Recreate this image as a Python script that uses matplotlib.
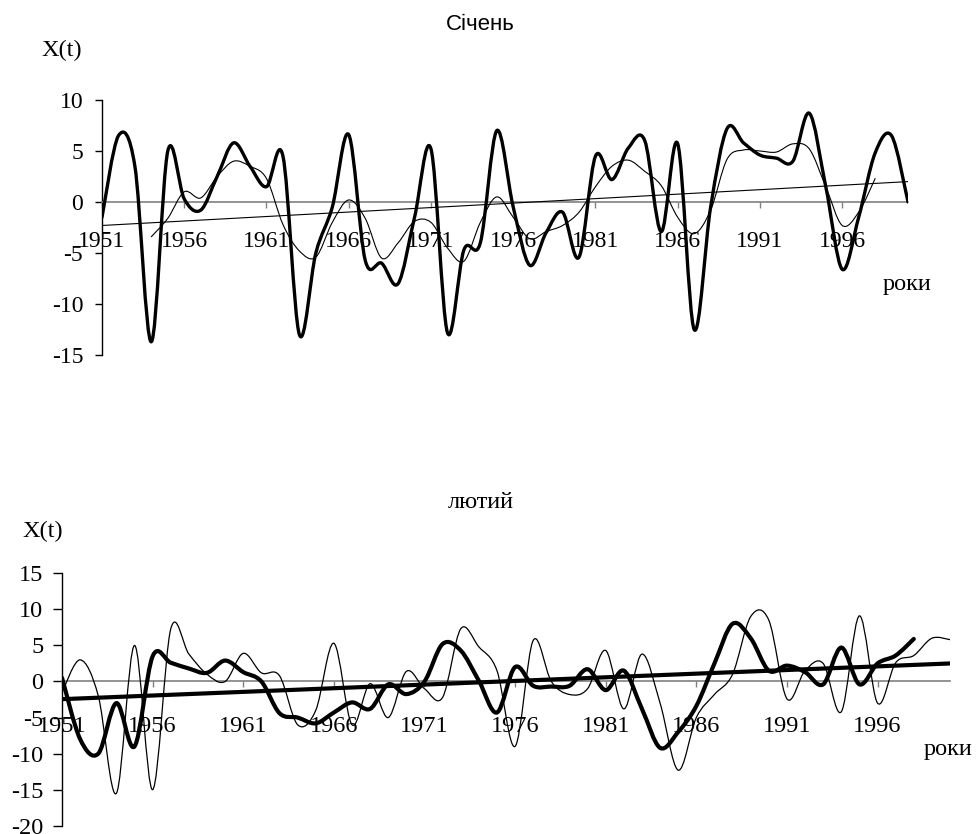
import numpy as np
import matplotlib.pyplot as plt
from matplotlib.path import Path
from matplotlib.patches import PathPatch

plt.rcParams['font.family'] = ['Liberation Serif', 'DejaVu Serif']
plt.rcParams['axes.unicode_minus'] = False

years = np.arange(1951, 2001)
tick_years = np.arange(1951, 2000, 5)

# Січень: ряд (товста лінія), згладжений ряд (тонка), тренд
jan_values = [-1.5, 6.5, 3.5, -13.7, 5.0, 0.3, -0.8, 2.5, 5.8, 3.5,
              1.5, 4.5, -13.0, -5.0, -0.5, 6.6, -5.7, -6.0, -8.0, -1.5,
              5.2, -12.8, -4.7, -4.0, 7.0, -0.5, -6.2, -3.0, -1.0, -5.4,
              4.5, 2.2, 5.3, 6.0, -2.9, 5.7, -12.5, -0.5, 7.2, 5.8,
              4.6, 4.3, 4.0, 8.7, 1.5, -6.6, -1.5, 4.8, 6.5, 0.0]
jan_smooth_years = np.arange(1954, 1999)
jan_smooth = [-3.4, -1.6, 1.0, 0.4, 2.5, 4.0, 3.5, 2.3, -2.2, -4.8,
              -5.4, -2.0, 0.2, -1.6, -5.5, -4.0, -1.9, -2.0, -4.5, -5.8,
              -2.0, 0.5, -1.5, -3.6, -2.9, -2.3, -1.0, 1.5, 3.5, 4.1,
              3.0, 1.6, -1.5, -3.1, -0.8, 4.2, 5.1, 5.0, 4.9, 5.7,
              5.2, 1.5, -2.3, -1.0, 2.3]
jan_trend_years = [1951, 2000]
jan_trend = [-2.3, 2.0]

# лютий: ряд (тонка лінія), згладжений ряд (товста), тренд
feb_values = [-1.5, 3.0, -2.0, -15.5, 5.0, -15.0, 7.3, 3.8, 1.0, 0.0,
              3.9, 1.2, 0.8, -6.0, -4.0, 5.3, -6.0, -0.3, -5.0, 1.4,
              -1.0, -2.2, 7.3, 4.8, 1.5, -9.0, 5.7, 0.0, -1.8, -1.0,
              4.3, -3.8, 3.8, -3.0, -12.3, -5.0, -1.8, 1.0, 9.0, 8.5,
              -2.4, 1.5, 2.5, -4.2, 9.1, -3.0, 2.6, 3.6, 6.0, 5.8]
feb_smooth_years = np.arange(1951, 1999)
feb_smooth = [0.5, -8.0, -10.0, -3.0, -9.0, 3.5, 2.6, 1.8, 1.2, 2.9,
              1.3, 0.0, -4.4, -5.0, -5.8, -4.3, -2.9, -3.8, -0.4, -1.75,
              0.0, 5.2, 4.3, 0.1, -4.3, 2.0, -0.6, -0.7, -0.6, 1.7,
              -1.2, 1.5, -3.8, -9.2, -7.0, -3.4, 2.5, 8.0, 6.0, 1.5,
              2.2, 1.3, -0.4, 4.7, -0.4, 2.5, 3.6, 5.9]
feb_trend_years = [1951, 2000]
feb_trend = [-2.45, 2.5]


def smooth_line(ax, x, y, lw):
    # згладжена лінія як в Excel (кубічні криві Безьє)
    x = np.asarray(x, float)
    y = np.asarray(y, float)
    n = len(x)
    verts = [(x[0], y[0])]
    codes = [Path.MOVETO]
    for i in range(n - 1):
        i0 = max(i - 1, 0)
        i3 = min(i + 2, n - 1)
        c1 = (x[i] + (x[i + 1] - x[i0]) / 6, y[i] + (y[i + 1] - y[i0]) / 6)
        c2 = (x[i + 1] - (x[i3] - x[i]) / 6, y[i + 1] - (y[i3] - y[i]) / 6)
        verts += [c1, c2, (x[i + 1], y[i + 1])]
        codes += [Path.CURVE4] * 3
    patch = PathPatch(Path(verts, codes), fill=False, lw=lw, edgecolor='black',
                      capstyle='round', joinstyle='round', zorder=3)
    ax.add_patch(patch)


def style_axes(ax, ymin, ymax, fs, xpad, ylen, ypad):
    ax.set_xlim(1951, 2000)
    ax.set_ylim(ymin, ymax)
    ax.spines['top'].set_visible(False)
    ax.spines['right'].set_visible(False)
    ax.spines['bottom'].set_position(('data', 0))
    ax.spines['bottom'].set_color('#808080')
    ax.spines['bottom'].set_linewidth(1.2)
    ax.spines['left'].set_linewidth(1.0)
    ax.set_xticks(tick_years)
    ax.set_xticklabels([str(t) for t in tick_years])
    ax.set_yticks(np.arange(ymin, ymax + 1, 5))
    ax.tick_params(axis='x', direction='out', length=4.5, width=1, color='#808080',
                   pad=xpad, labelsize=fs)
    ax.tick_params(axis='y', direction='out', length=ylen, width=1, pad=ypad,
                   labelsize=fs)
    ax.patch.set_alpha(0)


fig = plt.figure(figsize=(9.77, 8.34), dpi=100)

# ---- Січень ----
ax1 = fig.add_axes([0.1044, 0.5743, 0.825, 0.3058])
style_axes(ax1, -15, 10, 17, 16.5, 5, 8.5)
smooth_line(ax1, years, jan_values, 2.4)
smooth_line(ax1, jan_smooth_years, jan_smooth, 0.8)
ax1.plot(jan_trend_years, jan_trend, color='black', lw=0.8, zorder=3)

fig.text(480 / 977, 1 - 24 / 834, 'Січень', family='Liberation Sans', fontsize=16,
         ha='center', va='center')
fig.text(62 / 977, 1 - 50 / 834, 'X(t)', fontsize=17.5, ha='center', va='center')
fig.text(907 / 977, 1 - 290 / 834, 'роки', fontsize=17.5, ha='center', va='baseline')

# ---- лютий ----
ax2 = fig.add_axes([0.0635, 0.0099, 0.9089, 0.3027])
style_axes(ax2, -20, 15, 17.5, 20, 6.5, 7)
smooth_line(ax2, years, feb_values, 0.9)
smooth_line(ax2, feb_smooth_years, feb_smooth, 3.0)
ax2.plot(feb_trend_years, feb_trend, color='black', lw=3.0, zorder=3)

fig.text(481 / 977, 1 - 503 / 834, 'лютий', fontsize=17.5, ha='center', va='center')
fig.text(43 / 977, 1 - 531 / 834, 'X(t)', fontsize=17.5, ha='center', va='center')
fig.text(948 / 977, 1 - 755 / 834, 'роки', fontsize=17.5, ha='center', va='baseline')

fig.savefig('out.png', dpi=100)
